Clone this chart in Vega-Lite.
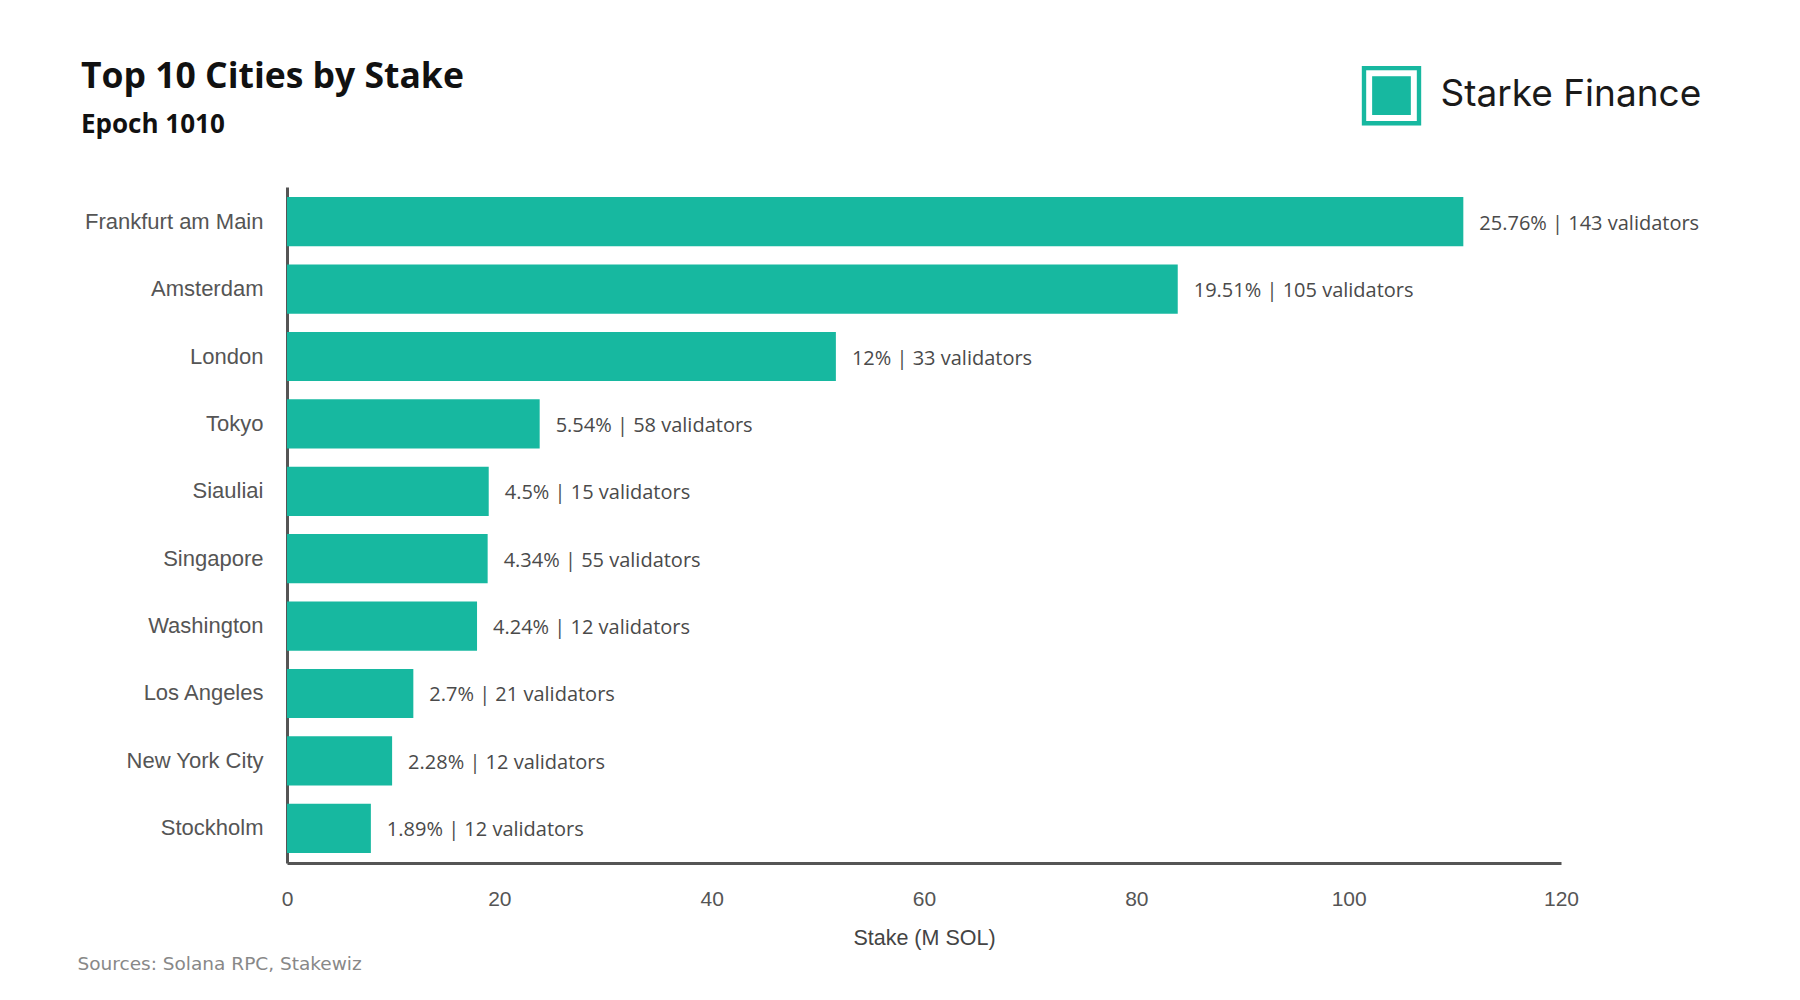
{
  "$schema": "https://vega.github.io/schema/vega-lite/v6.json",
  "autosize": {"type": "none"},
  "padding": {"left": 287, "top": 187, "right": 239, "bottom": 137},
  "width": 1274,
  "height": 676,
  "background": "white",
  "title": {
    "text": "Top 10 Cities by Stake",
    "subtitle": "Epoch 1010",
    "anchor": "start",
    "frame": "group",
    "dx": -206,
    "font": "Open Sans",
    "fontSize": 35.5,
    "fontWeight": "bold",
    "color": "#111111",
    "subtitleFont": "Open Sans",
    "subtitleFontSize": 26,
    "subtitleFontWeight": "bold",
    "subtitleColor": "#111111",
    "subtitlePadding": 17,
    "offset": -85
  },
  "config": {
    "view": {"stroke": null}
  },
  "data": {
    "values": [
      {"city": "Frankfurt am Main", "stake": 110.8, "label": "25.76% | 143 validators"},
      {"city": "Amsterdam", "stake": 83.9, "label": "19.51% | 105 validators"},
      {"city": "London", "stake": 51.7, "label": "12% | 33 validators"},
      {"city": "Tokyo", "stake": 23.8, "label": "5.54% | 58 validators"},
      {"city": "Siauliai", "stake": 19.0, "label": "4.5% | 15 validators"},
      {"city": "Singapore", "stake": 18.9, "label": "4.34% | 55 validators"},
      {"city": "Washington", "stake": 17.9, "label": "4.24% | 12 validators"},
      {"city": "Los Angeles", "stake": 11.9, "label": "2.7% | 21 validators"},
      {"city": "New York City", "stake": 9.9, "label": "2.28% | 12 validators"},
      {"city": "Stockholm", "stake": 7.9, "label": "1.89% | 12 validators"}
    ]
  },
  "encoding": {
    "y": {
      "field": "city",
      "type": "nominal",
      "sort": null,
      "scale": {"paddingInner": 0.27, "paddingOuter": 0.15}
    },
    "x": {
      "field": "stake",
      "type": "quantitative",
      "scale": {"domain": [0, 120], "nice": false}
    }
  },
  "layer": [
    {
      "mark": {"type": "bar", "color": "#17b8a0"},
      "encoding": {
        "x": {
          "field": "stake",
          "type": "quantitative",
          "axis": {
            "orient": "bottom",
            "title": "Stake (M SOL)",
            "values": [0, 20, 40, 60, 80, 100, 120],
            "grid": false,
            "ticks": false,
            "tickSize": 0,
            "labelFlush": false,
            "domainColor": "#555555",
            "domainWidth": 3,
            "labelFont": "Liberation Sans",
            "labelFontSize": 21,
            "labelColor": "#555555",
            "labelPadding": 25,
            "titleFont": "Liberation Sans",
            "titleFontSize": 21.5,
            "titleFontWeight": "normal",
            "titleColor": "#444444",
            "titlePadding": 18
          }
        },
        "y": {
          "field": "city",
          "type": "nominal",
          "sort": null,
          "axis": {
            "orient": "left",
            "ticks": false,
            "tickSize": 0,
            "domainColor": "#555555",
            "domainWidth": 3,
            "labelFont": "Liberation Sans",
            "labelFontSize": 22,
            "labelColor": "#555555",
            "labelPadding": 24,
            "title": "Sources: Solana RPC, Stakewiz",
            "titleAngle": 0,
            "titleAlign": "left",
            "titleBaseline": "middle",
            "titleX": -210,
            "titleY": 776,
            "titleFont": "DejaVu Sans",
            "titleFontSize": 18.5,
            "titleFontWeight": "normal",
            "titleColor": "#888888"
          }
        }
      }
    },
    {
      "mark": {
        "type": "text",
        "align": "left",
        "baseline": "middle",
        "dx": 16,
        "dy": 2,
        "font": "Open Sans",
        "fontSize": 20,
        "color": "#4a4a4a"
      },
      "encoding": {
        "text": {"field": "label", "type": "nominal"},
        "x": {
          "field": "stake",
          "type": "quantitative",
          "axis": {
            "orient": "top",
            "labels": false,
            "ticks": false,
            "domain": false,
            "grid": false,
            "title": "Starke Finance",
            "titleAnchor": "start",
            "titleAlign": "left",
            "titleBaseline": "middle",
            "titleX": 1153,
            "titleY": -93,
            "titleFont": "Inter",
            "titleFontSize": 37,
            "titleFontWeight": "normal",
            "titleColor": "#1a1a1a"
          }
        },
        "y": {
          "field": "city",
          "type": "nominal",
          "sort": null,
          "axis": {
            "orient": "right",
            "labels": false,
            "ticks": false,
            "domain": false,
            "grid": false,
            "title": "▣",
            "titleAngle": 0,
            "titleAlign": "center",
            "titleBaseline": "middle",
            "titleX": -170,
            "titleY": -95,
            "titleFont": "DejaVu Sans",
            "titleFontSize": 78,
            "titleFontWeight": "normal",
            "titleColor": "#17b8a0"
          }
        }
      }
    }
  ],
  "resolve": {"axis": {"x": "independent", "y": "independent"}}
}
